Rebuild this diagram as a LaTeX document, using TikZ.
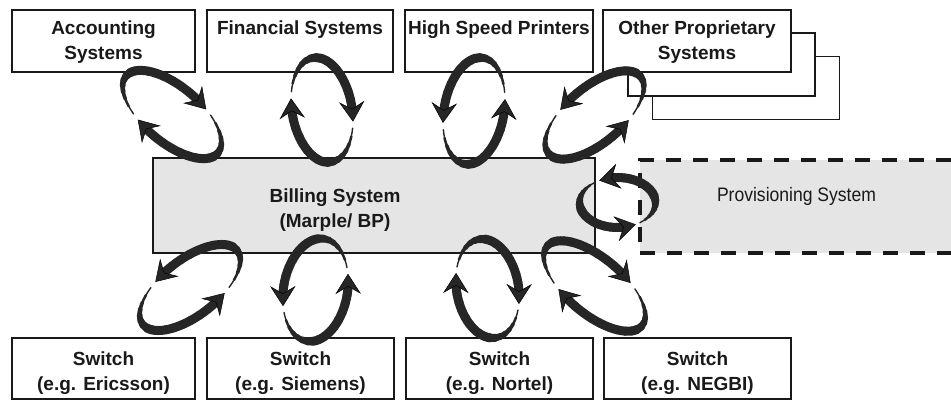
\documentclass[tikz,border=0pt]{standalone}
\usepackage{fontspec}
\usepackage{graphicx}
\setmainfont{Liberation Sans}
\usetikzlibrary{arrows.meta}
% one curved, tapering band with a barbed head
\newcommand{\bandarrow}[7]{%
  \begin{scope}[shift={(#1,#2)},rotate=#3]
    \pgfmathsetmacro{\bSgn}{(#7>#6) ? 1 : -1}
    \pgfmathsetmacro{\bSpd}{sqrt((#4*sin(#7))^2+(#5*cos(#7))^2)}
    \pgfmathsetmacro{\bEnd}{#7-\bSgn*12/\bSpd*57.2958}
    \foreach \i in {0,...,15}{
      \pgfmathsetmacro{\bA}{#6+(\bEnd-(#6))*\i/16}
      \pgfmathsetmacro{\bC}{#6+(\bEnd-(#6))*(\i+1)/16}
      \pgfmathsetmacro{\bW}{1.4+7.6*min(1,\i/7)}
      \draw[band,line width=\bW pt] ({#4*cos(\bA)},{#5*sin(\bA)}) arc[start angle=\bA,end angle=\bC,x radius=#4pt,y radius=#5pt];
    }
    \pgfmathsetmacro{\xE}{#4*cos(\bEnd)}
    \pgfmathsetmacro{\yE}{#5*sin(\bEnd)}
    \pgfmathsetmacro{\xT}{#4*cos(#7)}
    \pgfmathsetmacro{\yT}{#5*sin(#7)}
    \pgfmathsetmacro{\aNg}{atan2(\yT-\yE,\xT-\xE)}
    \fill[bandfill,shift={(\xT,\yT)},rotate=\aNg] (0,0) -- (-19,12) -- (-12,0) -- (-19,-12) -- cycle;
  \end{scope}}
% a pair of arrows forming a loop: cx cy theta a b gap dir
\newcommand{\rloop}[7]{%
  \pgfmathsetmacro{\rA}{#6}
  \pgfmathsetmacro{\rB}{#6+#7*172}
  \pgfmathsetmacro{\rC}{#6+180}
  \pgfmathsetmacro{\rD}{#6+180+#7*172}
  \bandarrow{#1}{#2}{#3}{#4}{#5}{\rA}{\rB}
  \bandarrow{#1}{#2}{#3}{#4}{#5}{\rC}{\rD}}
\begin{document}
\begin{tikzpicture}[x=1pt,y=1pt,
  box/.style={draw=black!90,line width=1.7pt,fill=white,inner sep=0pt,minimum height=62pt},
  lbl/.style={font=\fontsize{19}{25.5}\selectfont\bfseries,align=center,inner sep=0pt,anchor=north,text=black!90},
  band/.style={draw=black!85,line cap=round},
  bandfill/.style={fill=black!85,draw=black,line width=0.5pt,line join=miter}]
\useasboundingbox (0,0) rectangle (951,401);
% top boxes
\node[box,minimum width=183pt] (acc) at (103.5,360) {};
\node[box,minimum width=186pt] (fin) at (300,360) {};
\node[box,minimum width=188pt] (hsp) at (499,360) {};
\node[box,minimum width=187pt,minimum height=63pt] (oth3) at (746,313) {};
\node[box,minimum width=187pt,minimum height=63pt] (oth2) at (721.5,336.5) {};
\node[box,minimum width=188pt] (oth) at (697,360) {};
% billing and provisioning
\node[draw=black!90,line width=2.6pt,fill=gray!20,inner sep=0pt,minimum width=442pt,minimum height=95pt] (bill) at (374,195.5) {};
\node[draw=black!90,line width=3.5pt,dash pattern=on 15pt off 12pt,fill=gray!20,inner sep=0pt,minimum width=325pt,minimum height=93pt] (prov) at (802.5,194.5) {};
% bottom boxes
\node[box,minimum width=183pt,minimum height=61pt] (eri) at (103.5,32.5) {};
\node[box,minimum width=187pt,minimum height=61pt] (sie) at (300.5,32.5) {};
\node[box,minimum width=187pt,minimum height=61pt] (nor) at (499.5,32.5) {};
\node[box,minimum width=187pt,minimum height=61pt] (neg) at (697.5,32.5) {};
% texts
\node[lbl] (acct) at (103.5,380.5) {Accounting\\Systems};
\node[lbl] (fint) at (300,380.5) {Financial Systems};
\node[lbl] (hspt) at (499,380.5) {High Speed Printers};
\node[lbl] (otht) at (697,380.5) {Other Proprietary\\Systems};
\node[lbl] (billt) at (335,212.5) {Billing System\\(Marple/ BP)};
\node[font=\fontsize{19.5}{23}\selectfont,inner sep=0pt,anchor=north,text=black!90] (provt) at (796.5,214) {\scalebox{0.9}[1]{Provisioning System}};
\node[lbl] (erit) at (103.5,49.5) {Switch\\(e.g. Ericsson)};
\node[lbl] (siet) at (300.5,49.5) {Switch\\(e.g. Siemens)};
\node[lbl] (nort) at (499.5,49.5) {Switch\\(e.g. Nortel)};
\node[lbl] (negt) at (697.5,49.5) {Switch\\(e.g. NEGBI)};
% loops
\rloop{172}{286.5}{-40}{60}{28}{60}{-1}
\rloop{322}{291}{100}{53}{30}{64}{-1}
\rloop{474}{290}{80}{54}{30}{-64}{1}
\rloop{594.5}{286}{40}{60}{28}{-60}{1}
\rloop{617.5}{198.5}{0}{38}{25}{-54}{1}
\rloop{190}{113.5}{38}{60}{28}{-59}{1}
\rloop{315.5}{111}{80}{52}{32}{-58}{1}
\rloop{487.5}{112.5}{100}{50}{31}{58}{-1}
\rloop{594.5}{115}{-40}{62}{28}{58}{-1}
\end{tikzpicture}
\end{document}
